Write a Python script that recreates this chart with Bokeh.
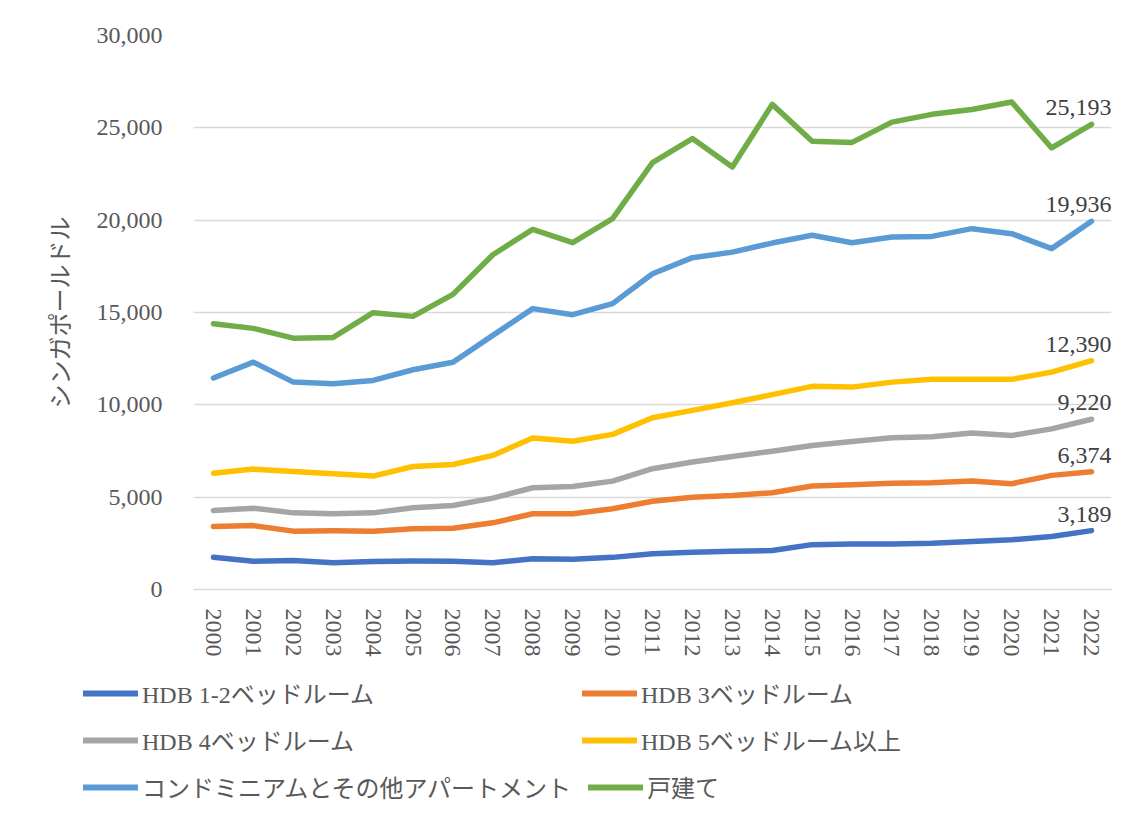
from bokeh.plotting import figure
from bokeh.models import Legend, LegendItem, NumeralTickFormatter, FactorRange, LabelSet, ColumnDataSource
from bokeh.embed import file_html
from bokeh.resources import INLINE

years = [str(y) for y in range(2000, 2023)]

hdb12 = [1750, 1530, 1570, 1450, 1510, 1540, 1530, 1450, 1660, 1640, 1740, 1930,
         2020, 2070, 2110, 2430, 2470, 2470, 2500, 2600, 2690, 2870, 3189]
hdb3 = [3410, 3460, 3160, 3180, 3160, 3290, 3320, 3610, 4100, 4100, 4370, 4780,
        5000, 5090, 5240, 5600, 5670, 5760, 5780, 5870, 5730, 6180, 6374]
hdb4 = [4280, 4400, 4150, 4100, 4150, 4430, 4550, 4950, 5510, 5580, 5870, 6540,
        6900, 7200, 7490, 7800, 8020, 8220, 8270, 8470, 8340, 8700, 9220]
hdb5 = [6300, 6520, 6390, 6270, 6140, 6660, 6770, 7260, 8200, 8030, 8400, 9300,
        9700, 10110, 10550, 11000, 10960, 11230, 11380, 11380, 11380, 11770, 12390]
condo = [11450, 12310, 11230, 11140, 11320, 11900, 12310, 13760, 15210, 14880, 15480, 17100,
         17970, 18270, 18760, 19180, 18780, 19090, 19120, 19540, 19270, 18460, 19936]
landed = [14390, 14140, 13610, 13650, 14990, 14790, 15980, 18130, 19500, 18780, 20080, 23120,
          24420, 22880, 26270, 24270, 24210, 25310, 25730, 25990, 26400, 23910, 25193]

series_names = ["HDB 1-2ベッドルーム", "HDB 3ベッドルーム", "HDB 4ベッドルーム",
                "HDB 5ベッドルーム以上", "コンドミニアムとその他アパートメント", "戸建て"]
series_values = [hdb12, hdb3, hdb4, hdb5, condo, landed]
series_colors = ["#4472C4", "#ED7D31", "#A5A5A5", "#FFC000", "#5B9BD5", "#70AD47"]

y_ticks = [0, 5000, 10000, 15000, 20000, 25000, 30000]
y_title = "シンガポールドル"

FONT = "'Liberation Serif', 'Noto Sans CJK JP'"
GRAY = "#595959"

# ---------------- main chart ----------------
p = figure(width=1118, height=660, output_backend="svg", toolbar_location=None,
           x_range=FactorRange(factors=years), y_range=(0, 30000),
           min_border_left=193, min_border_right=7, min_border_top=35, min_border_bottom=71)
p.outline_line_color = None

for name, vals, col in zip(series_names, series_values, series_colors):
    p.line(years, vals, line_color=col, line_width=5.5, line_cap="round", line_join="round")

lab_src = ColumnDataSource(dict(
    x=[years[-1]] * len(series_values),
    y=[v[-1] for v in series_values],
    t=[f"{v[-1]:,}" for v in series_values],
))
labels = LabelSet(x="x", y="y", text="t", source=lab_src, text_align="right",
                  text_baseline="bottom", x_offset=20, y_offset=9,
                  text_font=FONT, text_font_size="24px", text_color="#404040")
p.add_layout(labels)

p.yaxis.ticker = y_ticks
p.yaxis.formatter = NumeralTickFormatter(format="0,0")
p.yaxis.axis_line_color = None
p.yaxis.major_tick_line_color = None
p.yaxis.minor_tick_line_color = None
p.yaxis.major_tick_out = 0
p.yaxis.major_label_standoff = 31
p.yaxis.major_label_text_font = FONT
p.yaxis.major_label_text_font_size = "24px"
p.yaxis.major_label_text_color = GRAY
p.yaxis.axis_label = y_title
p.yaxis.axis_label_text_font = FONT
p.yaxis.axis_label_text_font_size = "24px"
p.yaxis.axis_label_text_font_style = "normal"
p.yaxis.axis_label_text_color = GRAY
p.yaxis.axis_label_standoff = 20

p.xaxis.axis_line_color = "#D9D9D9"
p.xaxis.axis_line_width = 1.5
p.xaxis.major_tick_line_color = None
p.xaxis.minor_tick_line_color = None
p.xaxis.major_tick_out = 0
p.xaxis.major_label_standoff = 19
p.xaxis.major_label_orientation = "vertical"
p.xaxis.major_label_text_font = FONT
p.xaxis.major_label_text_font_size = "24px"
p.xaxis.major_label_text_color = GRAY

p.xgrid.grid_line_color = None
p.ygrid.grid_line_color = "#D9D9D9"
p.ygrid.grid_line_width = 1.5

# ---------------- legend strip (separate root, frame covers the whole strip) ----------------
# Same series drawn again in a strip whose y range excludes them (clipped away),
# so that the legend has real renderers to take its swatches from.
lg = figure(width=1118, height=144, output_backend="svg", toolbar_location=None,
            x_range=FactorRange(factors=years), y_range=(-2, -1), min_border=0)
lg.outline_line_color = None
lg.axis.visible = False
lg.grid.visible = False

lg_renderers = []
for vals, col in zip(series_values, series_colors):
    lg_renderers.append(lg.line(years, vals, line_color=col, line_width=6, line_cap="round"))

row_bottoms = [94, 47, 0]
for i, vy in enumerate(row_bottoms):
    items = [LegendItem(label=series_names[2 * i + k], renderers=[lg_renderers[2 * i + k]]) for k in range(2)]
    leg = Legend(items=items, location=(83, vy), orientation="horizontal",
                 glyph_width=55, glyph_height=30, label_height=30, label_width=423,
                 label_standoff=4, spacing=17, padding=0, margin=0,
                 border_line_color=None, background_fill_alpha=0,
                 label_text_font=FONT, label_text_font_size="24px", label_text_color=GRAY)
    lg.add_layout(leg, "center")

open("out.html", "w").write(file_html([p, lg], INLINE))
